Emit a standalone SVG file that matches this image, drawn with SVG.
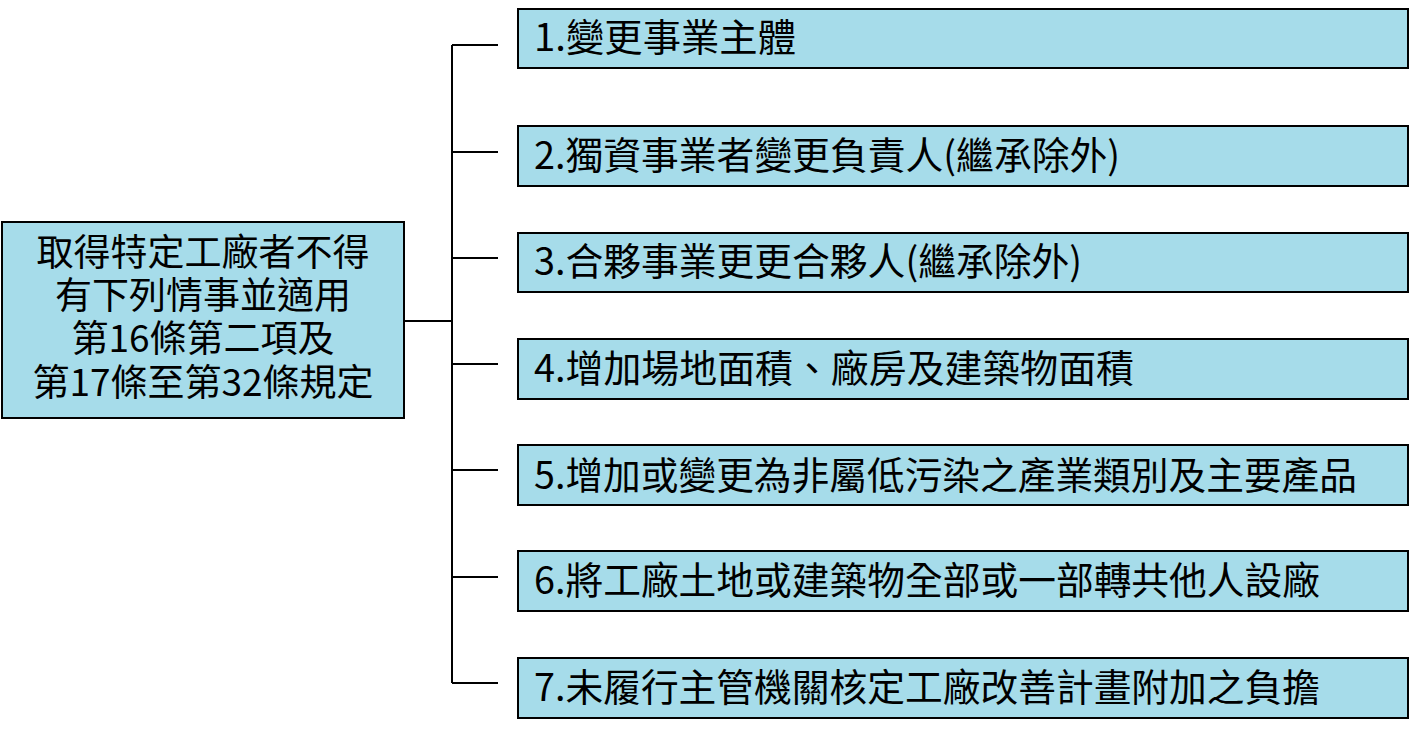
<svg xmlns="http://www.w3.org/2000/svg" width="1409" height="735" viewBox="0 0 1409 735">
<style>
.box{fill:#a6dcea;stroke:#000;stroke-width:2}
.t{font-family:"Noto Sans CJK TC","Noto Sans",sans-serif;fill:#000}
.lt{font-size:37px;text-anchor:middle}
.rt{font-size:38px}
.c{stroke:#000;stroke-width:2;fill:none}
</style>
<rect width="1409" height="735" fill="#fff"/>
<g id="connectors">
<path class="c" d="M404 321H452M452 45V683M452 45H498M452 152H498M452 258H498M452 364H498M452 470H498M452 577H498M452 683H498"/>
</g>
<g id="root">
<rect class="box" x="2" y="222" width="402" height="196"/>
<text class="t lt" x="203" y="266">取得特定工廠者不得</text>
<text class="t lt" x="203" y="309">有下列情事並適用</text>
<text class="t lt" x="203" y="352">第16條第二項及</text>
<text class="t lt" x="203" y="396">第17條至第32條規定</text>
</g>
<g id="n1">
<rect class="box" x="518" y="9" width="890" height="59"/>
<text class="t rt" x="534" y="51" textLength="262" lengthAdjust="spacingAndGlyphs">1.變更事業主體</text>
</g>
<g id="n2">
<rect class="box" x="518" y="126" width="890" height="60"/>
<text class="t rt" x="534" y="169" textLength="586" lengthAdjust="spacingAndGlyphs">2.獨資事業者變更負責人(繼承除外)</text>
</g>
<g id="n3">
<rect class="box" x="518" y="233" width="890" height="59"/>
<text class="t rt" x="534" y="275" textLength="548" lengthAdjust="spacingAndGlyphs">3.合夥事業更更合夥人(繼承除外)</text>
</g>
<g id="n4">
<rect class="box" x="518" y="339" width="890" height="60"/>
<text class="t rt" x="534" y="382" textLength="600" lengthAdjust="spacingAndGlyphs">4.增加場地面積、廠房及建築物面積</text>
</g>
<g id="n5">
<rect class="box" x="518" y="445" width="890" height="60"/>
<text class="t rt" x="534" y="489" textLength="823" lengthAdjust="spacingAndGlyphs">5.增加或變更為非屬低污染之產業類別及主要產品</text>
</g>
<g id="n6">
<rect class="box" x="518" y="551" width="890" height="60"/>
<text class="t rt" x="534" y="594" textLength="786" lengthAdjust="spacingAndGlyphs">6.將工廠土地或建築物全部或一部轉共他人設廠</text>
</g>
<g id="n7">
<rect class="box" x="518" y="658" width="890" height="60"/>
<text class="t rt" x="534" y="701" textLength="786" lengthAdjust="spacingAndGlyphs">7.未履行主管機關核定工廠改善計畫附加之負擔</text>
</g>
</svg>
